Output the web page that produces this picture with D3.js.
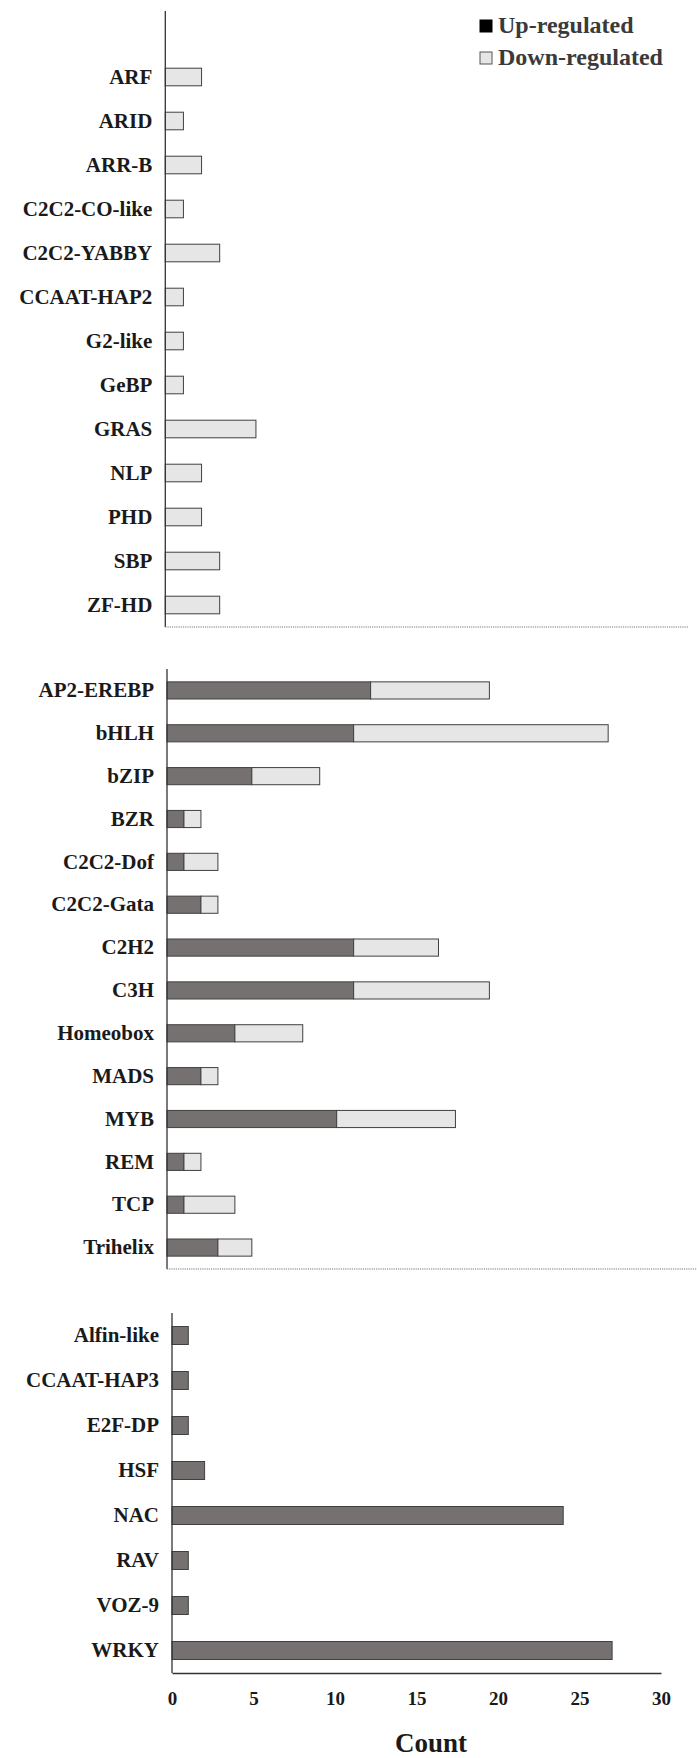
<!DOCTYPE html>
<html>
<head>
<meta charset="utf-8">
<script src="https://cdn.jsdelivr.net/npm/d3@7"></script>
<style>
  body { margin: 0; background: #fff; }
  svg { display: block; }
  text { font-family: 'Liberation Serif', 'Times New Roman', serif; font-weight: bold; }
</style>
</head>
<body>
<svg id="svg" width="697" height="1758"></svg>
<script>
// panel 1 - only down-regulated
const topFamilies = ['ARF', 'ARID', 'ARR-B', 'C2C2-CO-like', 'C2C2-YABBY', 'CCAAT-HAP2', 'G2-like', 'GeBP', 'GRAS', 'NLP', 'PHD', 'SBP', 'ZF-HD']
const topUp = [0, 0, 0, 0, 0, 0, 0, 0, 0, 0, 0, 0, 0]
const topDown = [2, 1, 2, 1, 3, 1, 1, 1, 5, 2, 2, 3, 3]

// panel 2 - both
const midFamilies = ['AP2-EREBP', 'bHLH', 'bZIP', 'BZR', 'C2C2-Dof', 'C2C2-Gata', 'C2H2', 'C3H', 'Homeobox', 'MADS', 'MYB', 'REM', 'TCP', 'Trihelix']
const midUp = [12, 11, 5, 1, 1, 2, 11, 11, 4, 2, 10, 1, 1, 3]
const midDown = [7, 15, 4, 1, 2, 1, 5, 8, 4, 1, 7, 1, 3, 2]

// panel 3 - only up-regulated
const lowFamilies = ['Alfin-like', 'CCAAT-HAP3', 'E2F-DP', 'HSF', 'NAC', 'RAV', 'VOZ-9', 'WRKY']
const lowUp = [1, 1, 1, 2, 24, 1, 1, 27]
const lowDown = [0, 0, 0, 0, 0, 0, 0, 0]

const xTicks = [0, 5, 10, 15, 20, 25, 30]
const seriesNames = ['Up-regulated', 'Down-regulated']

const upColour = '#767171'
const downColour = '#e7e6e6'
const edge = '#404040'

const svg = d3.select('#svg')

const panels = [
  { names: topFamilies, up: topUp, down: topDown,
    x: d3.scaleLinear().domain([0, 29]).range([165.3, 691]),
    band: [55, 627], axisTop: 11, dotTo: 688 },
  { names: midFamilies, up: midUp, down: midDown,
    x: d3.scaleLinear().domain([0, 31]).range([167, 693]),
    band: [669, 1269], axisTop: 669, dotTo: 697 },
  { names: lowFamilies, up: lowUp, down: lowDown,
    x: d3.scaleLinear().domain([0, 30]).range([172, 661]),
    band: [1313, 1673], axisTop: 1313, dotTo: null }
]

panels.forEach((p, i) => {
  const y = d3.scaleBand()
    .domain(p.names)
    .range(p.band)
    .paddingInner(0.6)
    .paddingOuter(0.3)

  const rows = p.names.map((n, k) => ({ name: n, up: p.up[k], down: p.down[k] }))
  const g = svg.append('g')

  // up part
  g.selectAll('rect.up')
    .data(rows.filter(d => d.up > 0))
    .enter()
    .append('rect')
    .attr('class', 'up')
    .attr('x', p.x(0))
    .attr('y', d => y(d.name))
    .attr('width', d => p.x(d.up) - p.x(0))
    .attr('height', y.bandwidth())
    .attr('fill', upColour)
    .attr('stroke', edge)
    .attr('stroke-width', 1)

  // down part stacked after up
  g.selectAll('rect.down')
    .data(rows.filter(d => d.down > 0))
    .enter()
    .append('rect')
    .attr('class', 'down')
    .attr('x', d => p.x(d.up))
    .attr('y', d => y(d.name))
    .attr('width', d => p.x(d.up + d.down) - p.x(d.up))
    .attr('height', y.bandwidth())
    .attr('fill', downColour)
    .attr('stroke', edge)
    .attr('stroke-width', 1)

  // category labels
  const ax = g.append('g')
    .attr('transform', `translate(${p.x(0)},0)`)
    .call(d3.axisLeft(y).tickSize(0).tickPadding(13))
  ax.select('.domain').remove()
  ax.selectAll('text')
    .style('font-size', '21px')
    .attr('fill', '#1a1a1a')

  // vertical axis line
  g.append('line')
    .attr('x1', p.x(0)).attr('x2', p.x(0))
    .attr('y1', p.axisTop).attr('y2', p.band[1])
    .attr('stroke', '#333').attr('stroke-width', 1.3)

  // dotted separator
  if (p.dotTo) {
    g.append('line')
      .attr('x1', p.x(0)).attr('x2', p.dotTo)
      .attr('y1', p.band[1]).attr('y2', p.band[1])
      .attr('stroke', '#777').attr('stroke-width', 1.2)
      .attr('stroke-dasharray', '1.2,1')
  }

  // count axis on the last panel
  if (i === 2) {
    const xa = g.append('g')
      .attr('transform', `translate(0,${p.band[1]})`)
      .call(d3.axisBottom(p.x).tickValues(xTicks).tickSize(0).tickPadding(19))
    xa.select('.domain').attr('stroke', '#333').attr('stroke-width', 1.3)
    xa.selectAll('text')
      .style('font-size', '19px')
      .attr('fill', '#1a1a1a')

    g.append('text')
      .attr('x', 431)
      .attr('y', 1752)
      .attr('text-anchor', 'middle')
      .style('font-size', '27px')
      .attr('fill', '#1a1a1a')
      .text('Count')
  }
})

// legend
const legend = svg.append('g')
seriesNames.forEach((s, k) => {
  legend.append('rect')
    .attr('x', 480)
    .attr('y', 20 + k * 32)
    .attr('width', 12)
    .attr('height', 12)
    .attr('fill', k === 0 ? '#000' : downColour)
    .attr('stroke', k === 0 ? '#000' : '#555')
    .attr('stroke-width', 1)
  legend.append('text')
    .attr('x', 498)
    .attr('y', 33 + k * 32)
    .style('font-size', '24px')
    .attr('fill', '#3a3a3a')
    .text(s)
})
</script>
</body>
</html>
